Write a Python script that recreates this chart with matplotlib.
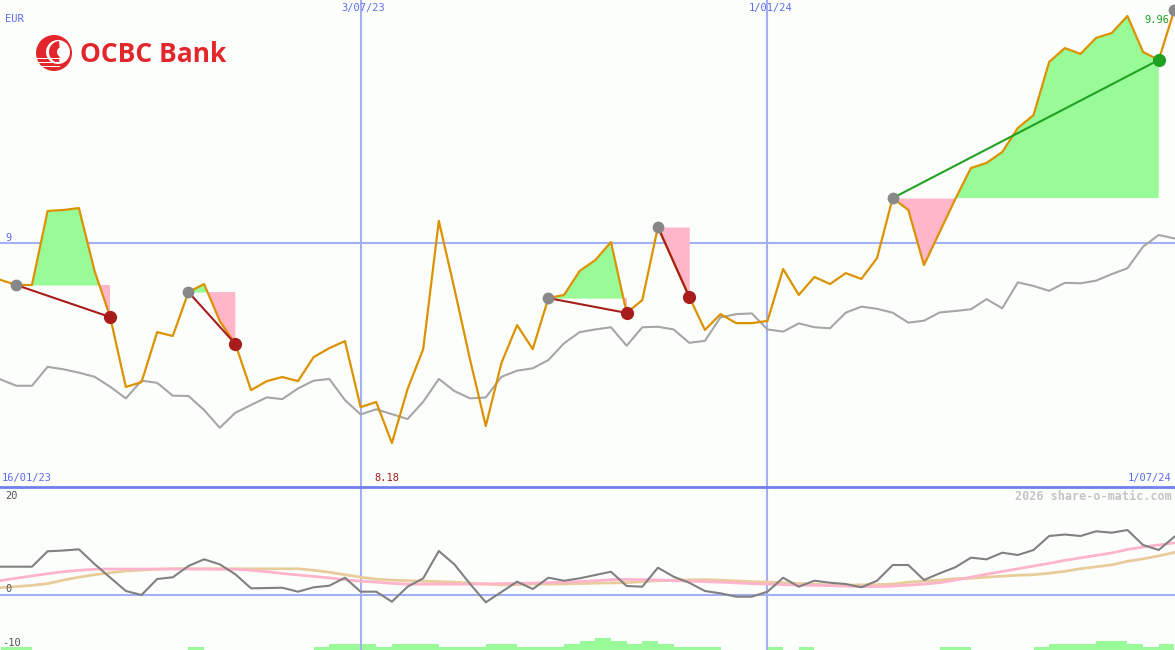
import numpy as np
import matplotlib
matplotlib.use("Agg")
import matplotlib.pyplot as plt
from matplotlib.patches import Circle, Wedge, Rectangle
from matplotlib.lines import Line2D

# weekly points, week 0 = 16/01/23
weeks = np.arange(1, 77)

price = [8.848, 8.827, 8.827, 9.132, 9.136, 9.144, 8.885, 8.695, 8.407, 8.427,
         8.633, 8.617, 8.798, 8.831, 8.679, 8.584, 8.394, 8.431, 8.448, 8.431,
         8.530, 8.567, 8.596, 8.324, 8.345, 8.176, 8.398, 8.563, 9.091, 8.810,
         8.518, 8.246, 8.506, 8.662, 8.563, 8.773, 8.786, 8.885, 8.930, 9.004,
         8.712, 8.765, 9.066, 8.922, 8.778, 8.642, 8.707, 8.670, 8.670, 8.679,
         8.893, 8.786, 8.860, 8.831, 8.876, 8.852, 8.938, 9.185, 9.136, 8.909,
         9.045, 9.181, 9.309, 9.330, 9.375, 9.474, 9.527, 9.746, 9.803, 9.779,
         9.845, 9.865, 9.935, 9.787, 9.754, 9.960]

index_line = [8.438, 8.412, 8.412, 8.490, 8.480, 8.466, 8.449, 8.408, 8.360, 8.433,
              8.424, 8.371, 8.370, 8.312, 8.239, 8.301, 8.333, 8.364, 8.357, 8.401,
              8.433, 8.440, 8.353, 8.294, 8.315, 8.295, 8.275, 8.346, 8.440, 8.390,
              8.360, 8.364, 8.449, 8.474, 8.484, 8.518, 8.587, 8.633, 8.644, 8.653,
              8.577, 8.653, 8.655, 8.644, 8.589, 8.597, 8.694, 8.707, 8.710, 8.644,
              8.635, 8.669, 8.653, 8.649, 8.713, 8.738, 8.729, 8.713, 8.672, 8.680,
              8.714, 8.720, 8.727, 8.769, 8.731, 8.838, 8.823, 8.803, 8.836, 8.834,
              8.845, 8.872, 8.896, 8.985, 9.033, 9.019]

momentum = [5.72, 5.72, 5.72, 8.83, 8.99, 9.23, 6.26, 3.52, 0.81, 0.00,
            3.23, 3.58, 5.86, 7.21, 6.20, 4.18, 1.35, 1.41, 1.47, 0.67,
            1.56, 1.88, 3.49, 0.67, 0.67, -1.35, 1.68, 3.37, 8.89, 6.16,
            2.22, -1.47, 0.61, 2.69, 1.21, 3.49, 2.89, 3.37, 4.04, 4.71,
            1.82, 1.68, 5.52, 3.70, 2.48, 0.81, 0.34, -0.34, -0.34, 0.67,
            3.49, 1.68, 2.89, 2.48, 2.22, 1.56, 2.89, 6.06, 6.06, 3.03,
            4.38, 5.60, 7.54, 7.21, 8.55, 8.08, 9.09, 11.92, 12.22, 11.92,
            12.87, 12.59, 13.13, 10.10, 9.09, 11.78]

avg_fast = [2.9, 3.4, 3.85, 4.3, 4.7, 5.0, 5.2, 5.25, 5.25, 5.25,
            5.25, 5.25, 5.25, 5.25, 5.2, 5.2, 5.0, 4.7, 4.35, 4.05,
            3.75, 3.45, 3.1, 2.8, 2.6, 2.35, 2.2, 2.2, 2.2, 2.2,
            2.2, 2.25, 2.3, 2.35, 2.4, 2.5, 2.6, 2.7, 2.9, 3.1,
            3.15, 3.1, 3.05, 2.9, 2.8, 2.7, 2.6, 2.45, 2.3, 2.2,
            2.1, 2.0, 1.95, 1.9, 1.8, 1.7, 1.7, 1.8, 2.0, 2.2,
            2.5, 3.0, 3.6, 4.2, 4.75, 5.3, 5.85, 6.4, 7.0, 7.5,
            8.0, 8.5, 9.2, 9.7, 10.1, 10.55]

avg_slow = [1.5, 1.7, 1.95, 2.3, 3.0, 3.6, 4.1, 4.5, 4.85, 5.05,
            5.2, 5.3, 5.3, 5.3, 5.3, 5.3, 5.3, 5.3, 5.3, 5.3,
            5.0, 4.6, 4.1, 3.6, 3.2, 3.0, 2.9, 2.8, 2.7, 2.6,
            2.4, 2.2, 2.05, 2.1, 2.2, 2.2, 2.25, 2.3, 2.4, 2.45,
            2.5, 2.7, 2.9, 3.0, 3.05, 3.1, 3.0, 2.85, 2.7, 2.6,
            2.5, 2.35, 2.2, 2.05, 2.0, 2.05, 2.1, 2.2, 2.6, 2.8,
            3.0, 3.3, 3.4, 3.6, 3.8, 4.0, 4.1, 4.4, 4.8, 5.3,
            5.7, 6.1, 6.8, 7.3, 7.9, 8.6]

volume = [1, 1, 0, 0, 0, 0, 0, 0, 0, 0,
          0, 0, 1, 0, 0, 0, 0, 0, 0, 0,
          1, 2, 2, 2, 1, 2, 2, 2, 1, 1,
          1, 2, 2, 1, 1, 1, 2, 3, 4, 3,
          2, 3, 2, 1, 1, 1, 0, 0, 0, 1,
          0, 1, 0, 0, 0, 0, 0, 0, 0, 0,
          1, 1, 0, 0, 0, 0, 1, 2, 2, 2,
          3, 3, 2, 1, 2, 0]

trade_start = [2, 13, 36, 43, 58, 76]
trade_end = [8, 16, 41, 45, 75]

grid_weeks = [24, 50]
grid_labels = ["3/07/23", "1/01/24"]
first_label = "16/01/23"
last_label = "1/07/24"

BG = "#fcfefc"
GRID = "#a4b0f4"
BLUE_TXT = "#5a6cf0"
ORANGE = "#dc9200"
GREEN_FILL = "#98fb98"
PINK_FILL = "#ffb6c8"
RED = "#a81c1c"
GREEN = "#22a022"
MONO = "DejaVu Sans Mono"

W, H = 1175, 650
fig = plt.figure(figsize=(W / 100, H / 100), dpi=100)
fig.patch.set_facecolor(BG)

ax = fig.add_axes([0, 163 / H, 1, 487 / H])
ax2 = fig.add_axes([0, 0, 1, 163 / H], sharex=ax)
for a in (ax, ax2):
    a.set_axis_off()

x0, x1 = 0.958, 76.04
ax.set_xlim(x0, x1)
ax.set_ylim(7.995, 10.001)
ax2.set_ylim(-11.11, 21.82)

price = np.array(price)

# grid
for w in grid_weeks:
    ax.axvline(w, color=GRID, lw=1.5, zorder=1)
    ax2.axvline(w, color=GRID, lw=1.5, zorder=1)
ax.axhline(9, color=GRID, lw=1.5, zorder=1)
ax2.axhline(0, color=GRID, lw=1.5, zorder=1)
fig.add_artist(Line2D([0, 1], [163 / H, 163 / H], color="#7080ec", lw=2,
                      transform=fig.transFigure, zorder=5))

# trade fills
for s, e in zip(trade_start, trade_end):
    xs = weeks[s - 1:e]
    ys = price[s - 1:e]
    lvl = price[s - 1]
    ax.fill_between(xs, lvl, ys, where=ys >= lvl, interpolate=True,
                    color=GREEN_FILL, lw=0, zorder=2)
    ax.fill_between(xs, lvl, ys, where=ys <= lvl, interpolate=True,
                    color=PINK_FILL, lw=0, zorder=2)

ax.plot(weeks, index_line, color="#a6a6a6", lw=1.5, zorder=3)
ax.plot(weeks, price, color=ORANGE, lw=1.6, zorder=4)

for s, e in zip(trade_start, trade_end):
    c = GREEN if price[e - 1] > price[s - 1] else RED
    ax.plot([s, e], [price[s - 1], price[e - 1]], color=c, lw=1.5, zorder=5)
    ax.plot(e, price[e - 1], "o", color=c, ms=9.5, mec="none", zorder=6)
for s in trade_start:
    ax.plot(s, price[s - 1], "o", color="#888888", ms=8.5, mec="none", zorder=6)

# lower panel
ax3 = ax2.twinx()
ax3.set_axis_off()
ax3.set_ylim(0, 163 / 3)
ax3.bar(weeks, volume, width=1, align="edge", color=GREEN_FILL, lw=0, zorder=1)

ax2.plot(weeks, avg_slow, color="#e8cc9c", lw=2, zorder=3)
ax2.plot(weeks, avg_fast, color="#ffb4cc", lw=2, zorder=3)
ax2.plot(weeks, momentum, color="#808080", lw=1.5, zorder=4)
ax2.set_zorder(ax3.get_zorder() + 1)
ax2.patch.set_visible(False)


def ftext(px, py, s, **kw):
    kw.setdefault("family", MONO)
    kw.setdefault("fontsize", 7.5)
    kw.setdefault("va", "center")
    fig.text(px / W, 1 - py / H, s, **kw)


def wpx(w):
    return (w - x0) / (x1 - x0) * W


ftext(5, 19, "EUR", color=BLUE_TXT)
for w, lab in zip(grid_weeks, grid_labels):
    ftext(wpx(w) + 3, 8, lab, color=BLUE_TXT, ha="center")
ftext(5, 238, "9", color=BLUE_TXT)
ftext(2, 478, first_label, color=BLUE_TXT)
ftext(1171, 478, last_label, color=BLUE_TXT, ha="right")
imin = int(np.argmin(price))
ftext(wpx(weeks[imin]) - 5, 478, "%.2f" % price[imin], color=RED, ha="center")
ftext(1169, 20, "%.2f" % price[-1], color=GREEN, ha="right")
ftext(1172, 496, "2026 share-o-matic.com", color="#c4c4c4", ha="right",
      fontsize=8.5, weight="bold")
ftext(5, 496, "20", color="#555555")
ftext(5, 589, "0", color="#555555")
ftext(2, 643, "-10", color="#555555")

# logo
lg = fig.add_axes([0, 0, 1, 1])
lg.set_axis_off()
lg.set_xlim(0, W)
lg.set_ylim(H, 0)
LOGO_RED = "#e3262b"
lg.add_patch(Circle((54, 53), 18, color=LOGO_RED, lw=0))
lg.add_patch(Circle((58, 52), 12, color="white", lw=0))
lg.add_patch(Wedge((60, 52), 11, 95, 265, color=LOGO_RED, lw=0))
lg.add_patch(Circle((62, 52), 5, color="white", lw=0))
for dy in (58, 62, 66):
    lg.add_patch(Rectangle((36, dy), 24, 1.2, color="white", lw=0))
lg.text(80, 54, "OCBC Bank", color=LOGO_RED, fontsize=19, weight="bold",
        family="Open Sans", va="center", ha="left")

fig.savefig("out.png", dpi=100, facecolor=BG)
